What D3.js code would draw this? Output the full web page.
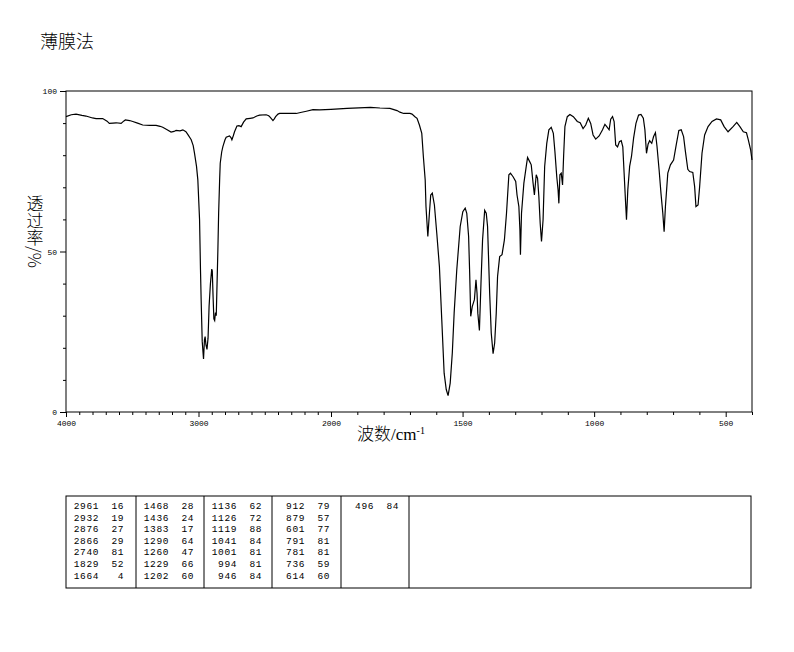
<!DOCTYPE html>
<html>
<head>
<meta charset="utf-8">
<script src="https://cdn.jsdelivr.net/npm/d3@7/dist/d3.min.js"></script>
<style>
  body { margin: 0; background: #fff; }
  svg { display: block; }
  .tick text { font-family: "Liberation Mono", "DejaVu Sans Mono", monospace; }
</style>
</head>
<body>
<svg width="794" height="652"></svg>
<script>
// Spectrum (wavenumber cm-1, transmittance %)
const wavenumbers = [4000, 3960, 3924, 3880, 3849, 3800, 3773, 3723, 3690, 3673, 3645, 3622, 3584, 3565, 3552, 3520, 3496, 3460, 3421, 3370, 3320, 3290, 3270, 3240, 3207, 3185, 3169, 3140, 3118, 3095, 3081, 3055, 3040, 3030, 3015, 3005, 2992, 2985, 2980, 2972, 2962, 2955, 2950, 2944, 2936, 2928, 2920, 2910, 2900, 2896, 2890, 2884, 2878, 2872, 2866, 2860, 2854, 2848, 2840, 2836, 2825, 2816, 2800, 2791, 2766, 2755, 2748, 2738, 2728, 2710, 2695, 2678, 2660, 2640, 2610, 2589, 2560, 2539, 2489, 2470, 2458, 2438, 2428, 2418, 2400, 2388, 2262, 2230, 2186, 2136, 2086, 2000, 1939, 1850, 1814, 1776, 1749, 1738, 1724, 1700, 1692, 1681, 1673, 1664, 1655, 1649, 1642, 1639, 1632, 1626, 1621, 1615, 1607, 1598, 1588, 1579, 1570, 1562, 1555, 1547, 1539, 1532, 1522, 1509, 1499, 1490, 1484, 1477, 1473, 1469, 1463, 1455, 1449, 1445, 1442, 1436, 1430, 1424, 1416, 1410, 1405, 1397, 1391, 1384, 1378, 1372, 1367, 1359, 1350, 1341, 1333, 1324, 1318, 1308, 1298, 1293, 1286, 1282, 1280, 1276, 1267, 1258, 1253, 1245, 1239, 1232, 1227, 1220, 1215, 1210, 1205, 1200, 1194, 1188, 1180, 1172, 1163, 1155, 1149, 1142, 1137, 1134, 1130, 1125, 1120, 1116, 1111, 1102, 1092, 1079, 1064, 1053, 1042, 1032, 1022, 1013, 1004, 994, 981, 968, 959, 952, 943, 937, 930, 924, 918, 911, 904, 897, 891, 886, 881, 877, 872, 865, 858, 850, 841, 831, 822, 813, 807, 801, 795, 789, 781, 774, 767, 761, 753, 746, 739, 734, 729, 720, 710, 698, 688, 678, 669, 660, 653, 644, 637, 625, 618, 613, 605, 599, 590, 580, 567, 552, 535, 519, 506, 491, 472, 458, 446, 433, 421, 414, 405, 400];
const transmittance = [92.0, 92.6, 92.8, 92.4, 92.2, 91.6, 91.4, 91.4, 90.6, 89.9, 90.0, 90.1, 89.9, 90.6, 91.0, 90.8, 90.5, 90.0, 89.4, 89.3, 89.3, 89.0, 88.7, 88.0, 87.2, 87.4, 87.7, 87.6, 87.9, 87.3, 86.5, 84.8, 83.0, 80.6, 76.5, 72.3, 59.9, 44.3, 35.0, 22.0, 16.5, 22.5, 23.5, 21.0, 19.5, 23.0, 33.0, 40.0, 44.5, 44.0, 36.0, 29.0, 28.5, 31.0, 30.0, 40.0, 50.0, 62.0, 73.0, 77.5, 81.0, 82.7, 84.8, 85.6, 86.0, 85.5, 84.8, 86.0, 87.3, 89.1, 89.2, 88.9, 90.3, 91.3, 91.5, 91.6, 92.2, 92.5, 92.6, 92.3, 91.8, 90.8, 91.3, 92.0, 92.8, 93.0, 93.0, 93.3, 93.7, 94.2, 94.1, 94.3, 94.6, 94.9, 94.7, 94.6, 93.9, 93.4, 93.0, 93.0, 92.8, 92.0, 91.5, 89.4, 86.8, 79.6, 72.3, 64.0, 54.7, 61.9, 67.6, 68.2, 64.5, 55.7, 45.3, 28.7, 12.1, 7.0, 5.1, 9.0, 18.4, 30.8, 44.3, 57.8, 62.4, 63.5, 61.9, 54.7, 43.3, 29.8, 32.9, 35.0, 41.2, 37.0, 30.8, 25.4, 40.1, 53.6, 62.8, 61.9, 57.8, 37.0, 24.6, 18.2, 21.5, 30.8, 42.2, 48.4, 49.0, 53.6, 61.9, 73.9, 74.4, 73.3, 71.8, 67.6, 64.0, 56.7, 49.0, 61.9, 71.3, 76.5, 79.3, 78.0, 77.0, 71.3, 67.6, 73.9, 72.8, 67.1, 58.8, 53.1, 59.9, 76.5, 83.7, 87.9, 88.7, 86.8, 81.1, 73.3, 69.2, 65.0, 73.9, 74.4, 70.7, 79.6, 88.9, 92.0, 92.7, 92.0, 90.5, 90.1, 88.3, 89.4, 91.5, 89.9, 86.3, 85.0, 86.0, 87.9, 89.6, 88.9, 87.9, 91.2, 92.0, 90.5, 83.2, 82.6, 84.2, 84.5, 82.6, 74.4, 66.1, 59.9, 69.2, 76.5, 79.6, 85.3, 89.9, 92.5, 92.7, 91.5, 87.9, 80.6, 83.4, 84.5, 83.7, 85.8, 87.0, 82.7, 75.4, 68.2, 61.9, 56.2, 64.0, 74.4, 77.0, 78.5, 83.2, 87.7, 87.9, 85.8, 81.1, 75.6, 74.9, 74.6, 70.2, 64.0, 64.5, 70.2, 80.6, 86.3, 88.9, 90.5, 91.3, 91.0, 88.9, 87.3, 88.9, 90.2, 88.9, 87.3, 87.0, 84.8, 81.6, 78.5];

// Axis ticks
const xLabelTicks = [4000, 3000, 2000, 1500, 1000, 500];
const yLabelTicks = [0, 50, 100];

// Peak table (wavenumber, %T), as printed under the chart
const peakWave = ["2961", "2932", "2876", "2866", "2740", "1829", "1664",
                  "1468", "1436", "1383", "1290", "1260", "1229", "1202",
                  "1136", "1126", "1119", "1041", "1001", "994", "946",
                  "912", "879", "601", "791", "781", "736", "614",
                  "496"];
const peakT = ["16", "19", "27", "29", "81", "52", "4",
               "28", "24", "17", "64", "47", "66", "60",
               "62", "72", "88", "84", "81", "81", "84",
               "79", "57", "77", "81", "81", "59", "60",
               "84"];

const svg = d3.select("svg");
const plot = {left: 66, right: 752, top: 91, bottom: 412};

// Spectrometer scale: axis changes compression at 2000 cm-1
const x = d3.scaleLinear()
    .domain([4000, 2000, 400])
    .range([plot.left, 331, plot.right]);
const y = d3.scaleLinear()
    .domain([0, 100])
    .range([plot.bottom, plot.top]);

// Title
svg.append("text")
    .attr("x", 40).attr("y", 48)
    .style("font-family", "'Noto Sans CJK SC'")
    .style("font-size", "18px")
    .style("font-weight", 300)
    .text("薄膜法");

// Frame
svg.append("rect")
    .attr("x", plot.left).attr("y", plot.top)
    .attr("width", plot.right - plot.left).attr("height", plot.bottom - plot.top)
    .attr("fill", "none").attr("stroke", "#000").attr("stroke-width", 1);

// X axis: minor every 100, longer with labels at the round values
const minorX = d3.range(4000, 399, -100).filter(v => !xLabelTicks.includes(v));
svg.append("g")
    .attr("transform", `translate(0,${plot.bottom})`)
    .call(d3.axisBottom(x).tickValues(minorX).tickSize(3).tickFormat(""))
    .call(g => g.select(".domain").remove());
svg.append("g")
    .attr("transform", `translate(0,${plot.bottom})`)
    .call(d3.axisBottom(x).tickValues(xLabelTicks).tickSize(5).tickPadding(3).tickFormat(d3.format("d")))
    .call(g => g.select(".domain").remove())
    .call(g => g.selectAll("text").style("font-size", "8px").attr("fill", "#000"));

// Y axis: minor every 10
const minorY = d3.range(10, 100, 10).filter(v => !yLabelTicks.includes(v));
svg.append("g")
    .attr("transform", `translate(${plot.left},0)`)
    .call(d3.axisLeft(y).tickValues(minorY).tickSize(3).tickFormat(""))
    .call(g => g.select(".domain").remove());
svg.append("g")
    .attr("transform", `translate(${plot.left},0)`)
    .call(d3.axisLeft(y).tickValues(yLabelTicks).tickSize(6).tickPadding(3).tickFormat(d3.format("d")))
    .call(g => g.select(".domain").remove())
    .call(g => g.selectAll("text").style("font-size", "8px").attr("fill", "#000"));

// Axis titles
svg.append("text")
    .attr("x", 391).attr("y", 440)
    .attr("text-anchor", "middle")
    .style("font-family", "'Liberation Serif', 'Noto Sans CJK SC'")
    .style("font-size", "17px")
    .html("<tspan style=\"font-family:'Noto Sans CJK SC'; font-weight:300\">波数</tspan>/cm<tspan dy='-6' font-size='10px'>-1</tspan>");

svg.append("text")
    .attr("x", 35).attr("y", 195)
    .style("writing-mode", "vertical-rl")
    .style("font-family", "'Noto Sans CJK SC'")
    .style("font-size", "17px")
    .style("font-weight", 300)
    .text("透过率/%");

// Spectrum line
const pts = wavenumbers.map((w, i) => [w, transmittance[i]]);
svg.append("path")
    .datum(pts)
    .attr("fill", "none")
    .attr("stroke", "#000")
    .attr("stroke-width", 1.2)
    .attr("d", d3.line().x(d => x(d[0])).y(d => y(d[1])));

// Peak table
const table = {top: 496, bottom: 588, right: 751};
const colX = [66, 136, 204, 272, 341, 409];
svg.append("rect")
    .attr("x", plot.left).attr("y", table.top)
    .attr("width", table.right - plot.left).attr("height", table.bottom - table.top)
    .attr("fill", "none").attr("stroke", "#000");
colX.slice(1).forEach(cx => {
    svg.append("line")
        .attr("x1", cx).attr("x2", cx)
        .attr("y1", table.top).attr("y2", table.bottom)
        .attr("stroke", "#000");
});
const cells = svg.append("g")
    .style("font-family", "'Liberation Mono', monospace")
    .style("font-size", "9.5px")
    .style("letter-spacing", "0.6px");
peakWave.forEach((w, i) => {
    const col = Math.floor(i / 7), row = i % 7;
    const by = 509 + row * 11.6;
    cells.append("text")
        .attr("x", colX[col] + 33).attr("y", by)
        .attr("text-anchor", "end")
        .text(w);
    cells.append("text")
        .attr("x", colX[col] + 58).attr("y", by)
        .attr("text-anchor", "end")
        .text(peakT[i]);
});
</script>
</body>
</html>
